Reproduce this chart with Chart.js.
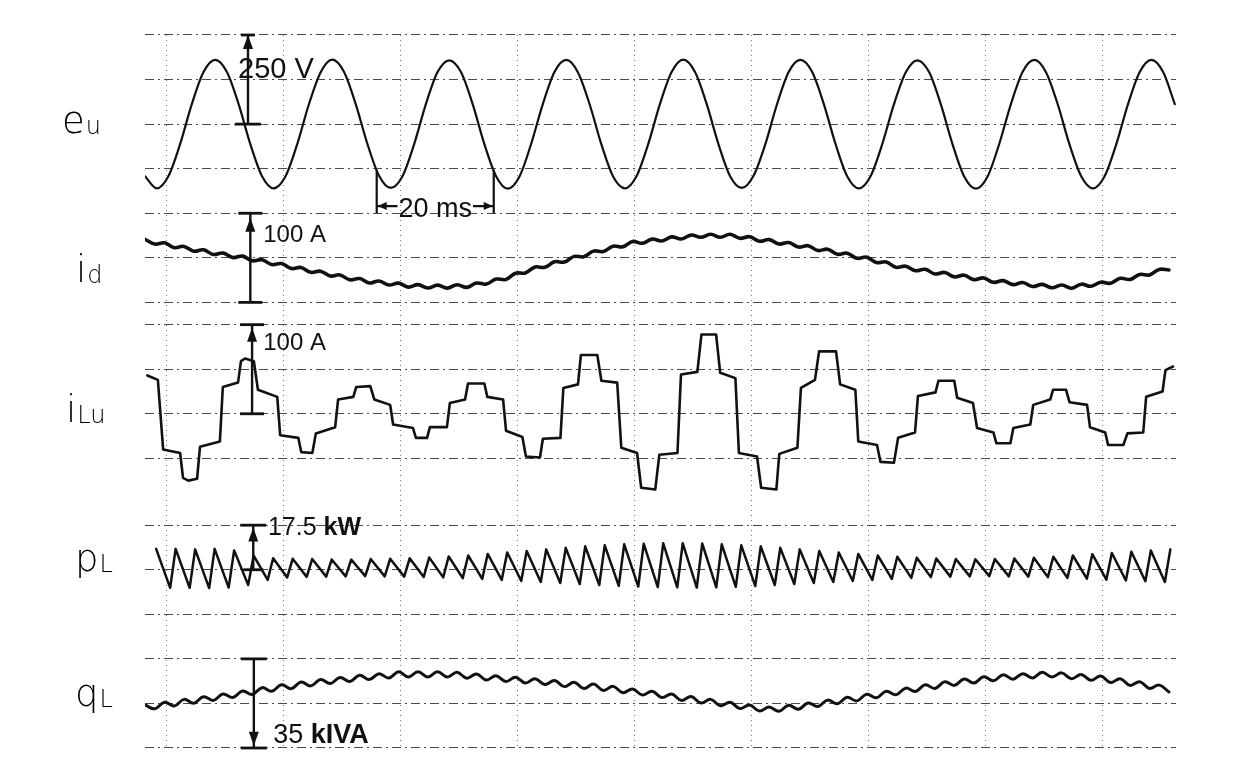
<!DOCTYPE html>
<html><head><meta charset="utf-8">
<script src="https://cdn.jsdelivr.net/npm/chart.js@4/dist/chart.umd.min.js"></script>
<style>html,body{margin:0;padding:0;background:#fff}canvas{display:block}</style>
</head><body>
<canvas id="c" width="1234" height="768"></canvas>
<script>
// ---------------- data ----------------
// time axis in ms; grid = 20 ms per division
const gridTimes = [0, 20, 40, 60, 80, 100, 120, 140, 160];
// vertical grid positions in screen divisions (0 = bottom line)
const gridDivs = [0, 1, 2, 3, 4, 5, 6.5, 7.5, 8.5, 9.5, 10, 11, 12, 13, 14, 15, 16];

// e_u : phase voltage [V], sampled every 2 ms from -3.6 ms
const euStart = -3.6, euStep = 2;
const euVolts = [-146,-180,
 -146,-56,56,146,180,146,56,-56,-146,-180,
 -147,-57,55,145,181,147,57,-55,-145,-179,
 -146,-56,56,146,179,146,56,-56,-146,-181,
 -147,-55,57,147,180,145,55,-57,-147,-180,
 -146,-56,56,146,181,146,56,-56,-146,-179,
 -145,-57,55,146,180,147,57,-55,-146,-180,
 -146,-56,56,145,179,146,56,-56,-147,-181,
 -147,-55,57,147,180,145,55,-57,-146,-180,
 -146,-56,56,146,180,146,56];

// i_d : dc-link current deviation [A], sampled every 5/3 ms from -3.6 ms
const idStart = -3.6, idStep = 5 / 3;
const idAmps = [20.8,15.4,16.8,11.4,12.8,7.4,9.0,3.8,5.4,0.3,
 1.9,-3.3,-2.1,-7.6,-6.5,-12.0,-10.9,-16.3,-15.0,-20.4,
 -19.2,-24.7,-23.3,-28.3,-26.0,-30.5,-28.4,-32.9,-30.1,-33.8,
 -30.7,-34.0,-30.2,-33.2,-28.3,-29.5,-23.9,-24.3,-17.3,-17.0,
 -10.3,-10.7,-4.4,-4.8,1.6,1.2,7.5,7.1,13.0,12.3,
 18.4,16.3,21.0,18.9,23.5,21.1,25.5,23.0,26.4,23.0,
 26.4,21.9,23.7,18.6,20.4,15.4,17.2,12.1,13.6,8.2,
 9.6,4.0,5.2,-0.5,0.7,-5.3,-4.6,-10.7,-9.4,-14.5,
 -12.9,-18.1,-16.4,-21.4,-19.5,-24.5,-22.6,-27.5,-25.6,-30.1,
 -27.7,-32.2,-29.8,-33.6,-30.5,-34.1,-29.6,-31.9,-27.4,-28.6,
 -23.0,-24.3,-18.6,-19.2,-13.0,-13.6];

// i_Lu : line current [A] at the step corners
const iLuTime = [-3.2,-1.4,-0.5,2.4,2.9,3.8,5.3,5.8,9.2,9.7,
 12.3,12.8,13.5,15.0,15.7,19.0,19.5,22.6,23.1,25.0,
 25.6,28.9,29.4,32.0,32.5,34.9,35.6,38.3,38.8,42.2,
 42.7,44.6,45.1,48.0,48.5,51.1,51.6,54.4,54.9,57.6,
 58.1,60.9,61.5,63.9,64.4,67.4,67.9,70.4,70.9,73.7,
 74.4,77.1,77.8,80.5,81.2,83.6,84.3,87.4,88.0,90.8,
 91.5,94.0,94.7,97.3,97.9,101.0,101.7,104.3,104.8,107.9,
 108.5,110.9,111.6,114.5,115.2,117.8,118.3,121.5,122.1,124.4,
 125.1,128.0,128.5,131.5,132.0,134.7,135.2,137.9,138.6,141.4,
 141.9,144.3,144.8,147.7,148.2,151.1,151.6,153.8,154.4,157.4,
 157.9,160.5,161.0,163.6,164.3,167.0,167.5,170.3,170.8,172.1];
const iLuAmps = [43,38,-40,-44,-72,-75,-73,-37,-31,30,
 35,59,62,59,27,19,-24,-27,-43,-44,
 -22,-15,16,19,30,31,16,10,-12,-16,
 -27,-27,-15,-15,12,16,34,34,19,16,
 -19,-26,-48,-49,-28,-27,29,33,66,66,
 37,35,-38,-44,-83,-85,-46,-44,44,47,
 89,89,46,40,-44,-48,-83,-85,-45,-38,
 29,38,70,70,33,27,-31,-35,-54,-55,
 -27,-21,20,24,37,37,18,12,-16,-21,
 -33,-33,-16,-12,10,16,27,27,13,10,
 -15,-21,-35,-35,-22,-21,19,25,49,53];

// p_L : active power ripple [kW]; one peak and one trough per 300 Hz tooth
const pLStart = -1.7, pLPeriod = 10 / 3, pLFall = 2.4;
const pLPeak = [8.2,8.2,8.0,8.2,7.6,5.5,4.5,4.3,4.2,4.0,
 4.0,4.2,4.3,4.5,4.8,5.2,5.6,6.2,6.8,7.4,
 8.0,8.6,9.2,9.6,10.0,10.2,10.4,10.4,10.3,10.0,
 9.6,9.2,8.6,8.0,7.4,6.8,6.2,5.6,5.1,4.7,
 4.4,4.2,4.1,4.2,4.4,4.7,5.1,5.6,6.1,6.6,
 7.1,7.6,8.0];
const pLTrough = [-7.1,-7.1,-7.2,-7.0,-6.0,-4.0,-3.0,-2.8,-2.7,-2.6,
 -2.5,-2.6,-2.7,-2.8,-3.0,-3.3,-3.6,-4.0,-4.4,-4.8,
 -5.2,-5.6,-6.0,-6.3,-6.6,-6.8,-6.9,-7.0,-6.9,-6.7,
 -6.4,-6.0,-5.6,-5.2,-4.8,-4.4,-4.0,-3.6,-3.2,-2.9,
 -2.7,-2.6,-2.5,-2.6,-2.7,-2.9,-3.2,-3.5,-3.9,-4.2,
 -4.5,-4.8,-5.0];

// q_L : reactive power [kVA], sampled every 5/3 ms from -3.6 ms
const qLStart = -3.6, qLStep = 5 / 3;
const qLkVA = [-0.6,-2.1,0.5,-1.0,1.6,0.1,2.6,1.2,3.7,2.3,
 4.9,3.5,6.2,4.8,7.3,5.8,8.4,6.9,9.4,7.8,
 10.2,8.6,11.1,9.4,11.7,10.0,12.4,10.4,12.4,10.4,
 12.4,10.4,12.2,9.9,11.6,9.2,10.9,8.6,10.3,8.0,
 9.7,7.4,9.0,6.6,8.3,5.9,7.6,5.1,6.7,4.2,
 5.7,3.3,4.8,2.3,3.7,1.2,2.7,0.2,1.6,-0.9,
 0.5,-2.0,-0.6,-3.0,-1.4,-3.1,-0.7,-2.3,0.2,-1.2,
 1.3,-0.1,2.4,1.0,3.6,2.2,4.8,3.4,6.0,4.7,
 7.3,5.9,8.5,7.1,9.6,8.0,10.5,8.9,11.3,9.5,
 11.7,10.0,12.2,10.4,12.0,9.7,11.4,9.1,10.8,8.2,
 9.7,7.1,8.5,5.9,7.2,4.5];

// trace labels and scale bars
const traceNames = [
  {main:'e', sub:'u'}, {main:'i', sub:'d'}, {main:'i', sub:'Lu'}, {main:'p', sub:'L'}, {main:'q', sub:'L'}
];
const scaleTexts = [['250 V', ''], ['100 A', ''], ['100 A', ''], ['17.5 ', 'kW'], ['35 ', 'kIVA']];
const timeMarkText = '20 ms';

// ---------------- layout of the screen (divisions) ----------------
const X_MIN = -3.6, X_MAX = 172.6, Y_MIN = 0, Y_MAX = 16;
const traces = [
  {off:14,  perDiv:125,  width:2.2, tension:0.4, mono:true},
  {off:11,  perDiv:50,   width:3.6, tension:0.4},
  {off:7.5, perDiv:50,   width:2.6, tension:0},
  {off:4,   perDiv:17.5, width:2.5, tension:0},
  {off:1,   perDiv:17.5, width:3.0, tension:0.4}
];
const namePos = [
  {dx:83, div:13.8}, {dx:69, div:10.46}, {dx:79, div:7.32}, {dx:70, div:3.97}, {dx:70, div:0.94}
];
const barPos = [
  {t:14.0, top:16,  bot:14,  arrow:'up',   arrowAt:16,  topTick:14, botTick:26, tx:12.3, ty:15.04, fs:29},
  {t:14.4, top:12,  bot:10,  arrow:'up',   arrowAt:11.9, topTick:24, botTick:24, tx:16.6, ty:11.36, fs:24},
  {t:14.7, top:9.5, bot:7.5, arrow:'up',   arrowAt:9.43, topTick:24, botTick:24, tx:16.6, ty:8.93, fs:24},
  {t:14.9, top:5,   bot:4,   arrow:'up',   arrowAt:4.95, topTick:26, botTick:20, tx:17.4, ty:4.78, fs:25},
  {t:15.0, top:2,   bot:0,   arrow:'down', arrowAt:0.05, topTick:26, botTick:26, tx:18.3, ty:0.11, fs:27}
];
const timeMarkPos = {t1:36, t2:56, top:12.97, bot:12.0, arrowDiv:12.16, textDiv:11.92, fs:27};

// ---------------- build datasets ----------------
function toDiv(v, tr){ return tr.off + v / tr.perDiv; }
const euPts = euVolts.map((v,i)=>({x: euStart + i*euStep, y: toDiv(v, traces[0])}));
const idPts = idAmps.map((v,i)=>({x: idStart + i*idStep, y: toDiv(v, traces[1])}));
const iLuPts = iLuAmps.map((v,i)=>({x: iLuTime[i], y: toDiv(v, traces[2])}));
const pLPts = [];
pLPeak.forEach((v,k)=>{
  const tp = pLStart + k*pLPeriod;
  pLPts.push({x: tp, y: toDiv(v, traces[3])});
  const tt = tp + pLFall;
  if (tt <= 172.2) pLPts.push({x: tt, y: toDiv(pLTrough[k], traces[3])});
});
const qLPts = qLkVA.map((v,i)=>({x: qLStart + i*qLStep, y: toDiv(v, traces[4])}));
const allPts = [euPts, idPts, iLuPts, pLPts, qLPts];

const INK = '#111111';
const datasets = allPts.map((pts, i)=>({
  data: pts, borderColor: INK, borderWidth: traces[i].width, pointRadius: 0,
  tension: traces[i].tension, cubicInterpolationMode: traces[i].mono ? 'monotone' : 'default',
  fill: false, borderJoinStyle: 'round', borderCapStyle: 'round'
}));

// ---------------- annotation plugin ----------------
function arrowHead(ctx, x, y, dir, len, half){
  ctx.beginPath();
  if (dir === 'up'){ ctx.moveTo(x, y); ctx.lineTo(x-half, y+len); ctx.lineTo(x+half, y+len); }
  else if (dir === 'down'){ ctx.moveTo(x, y); ctx.lineTo(x-half, y-len); ctx.lineTo(x+half, y-len); }
  else if (dir === 'left'){ ctx.moveTo(x, y); ctx.lineTo(x+len, y-half); ctx.lineTo(x+len, y+half); }
  else { ctx.moveTo(x, y); ctx.lineTo(x-len, y-half); ctx.lineTo(x-len, y+half); }
  ctx.closePath(); ctx.fill();
}
function mixedText(ctx, parts, x, y, fs){
  let cx = x;
  ctx.font = `${fs}px "Liberation Sans", Arial, sans-serif`;
  ctx.fillText(parts[0], cx, y); cx += ctx.measureText(parts[0]).width;
  if (parts[1]){
    ctx.font = `bold ${fs}px "Liberation Sans", Arial, sans-serif`;
    ctx.fillText(parts[1], cx, y);
  }
}
const annotate = {
  id: 'annotate',
  afterDatasetsDraw(chart){
    const {ctx, scales:{x, y}, chartArea} = chart;
    ctx.save();
    ctx.strokeStyle = INK; ctx.fillStyle = INK; ctx.textBaseline = 'alphabetic';
    // scale bars
    barPos.forEach((b, i)=>{
      const px = x.getPixelForValue(b.t), yt = y.getPixelForValue(b.top), yb = y.getPixelForValue(b.bot);
      ctx.lineWidth = 2.4;
      ctx.beginPath(); ctx.moveTo(px, yt); ctx.lineTo(px, yb); ctx.stroke();
      ctx.lineWidth = 2.8;
      ctx.beginPath(); ctx.moveTo(px - b.topTick/2, yt); ctx.lineTo(px + b.topTick/2, yt); ctx.stroke();
      ctx.beginPath(); ctx.moveTo(px - b.botTick/2, yb); ctx.lineTo(px + b.botTick/2, yb); ctx.stroke();
      arrowHead(ctx, px, y.getPixelForValue(b.arrowAt), b.arrow, 14, 5);
      mixedText(ctx, scaleTexts[i], x.getPixelForValue(b.tx), y.getPixelForValue(b.ty), b.fs);
    });
    // 20 ms time mark
    const m = timeMarkPos;
    const x1 = x.getPixelForValue(m.t1), x2 = x.getPixelForValue(m.t2);
    const yTop = y.getPixelForValue(m.top), yBot = y.getPixelForValue(m.bot), ya = y.getPixelForValue(m.arrowDiv);
    ctx.lineWidth = 2.2;
    ctx.beginPath(); ctx.moveTo(x1, yTop); ctx.lineTo(x1, yBot); ctx.moveTo(x2, yTop); ctx.lineTo(x2, yBot); ctx.stroke();
    ctx.font = `${m.fs}px "Liberation Sans", Arial, sans-serif`;
    const tw = ctx.measureText(timeMarkText).width, xm = (x1 + x2) / 2;
    ctx.beginPath(); ctx.moveTo(x1, ya); ctx.lineTo(xm - tw/2 - 1, ya); ctx.moveTo(xm + tw/2 + 1, ya); ctx.lineTo(x2, ya); ctx.stroke();
    arrowHead(ctx, x1 + 1, ya, 'left', 9, 4);
    arrowHead(ctx, x2 - 1, ya, 'right', 9, 4);
    ctx.textAlign = 'center';
    ctx.fillText(timeMarkText, xm, y.getPixelForValue(m.textDiv));
    ctx.textAlign = 'left';
    // trace names
    ctx.fillStyle = '#000';
    traceNames.forEach((n, i)=>{
      const p = namePos[i];
      const bx = chartArea.left - p.dx, by = y.getPixelForValue(p.div);
      ctx.font = '300 37px "DejaVu Sans", sans-serif';
      ctx.fillText(n.main, bx, by);
      const w = ctx.measureText(n.main).width;
      ctx.font = '300 24px "DejaVu Sans", sans-serif';
      ctx.fillText(n.sub, bx + w + 1, by + 1);
    });
    ctx.restore();
  }
};

new Chart(document.getElementById('c'), {
  type: 'line',
  data: { datasets },
  options: {
    responsive: false, animation: false, devicePixelRatio: 1,
    layout: { padding: { left: 145, right: 58, top: 35, bottom: 20 } },
    plugins: { legend: { display: false }, tooltip: { enabled: false }, title: { display: false } },
    scales: {
      x: {
        type: 'linear', min: X_MIN, max: X_MAX,
        afterBuildTicks: s => { s.ticks = gridTimes.map(v => ({value: v})); },
        ticks: { display: false },
        grid: { color: '#7a7a7a', lineWidth: 1, drawTicks: false },
        border: { display: false, dash: [1, 4] }
      },
      y: {
        type: 'linear', min: Y_MIN, max: Y_MAX,
        afterBuildTicks: s => { s.ticks = gridDivs.map(v => ({value: v})); },
        ticks: { display: false },
        grid: { color: '#4a4a4a', lineWidth: 1.1, drawTicks: false },
        border: { display: false, dash: [9, 4, 2, 4] }
      }
    }
  },
  plugins: [annotate]
});
</script>
</body></html>
